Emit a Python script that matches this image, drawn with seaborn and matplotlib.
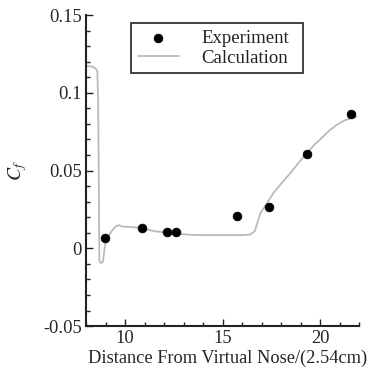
import matplotlib
matplotlib.use("Agg")
import matplotlib.pyplot as plt
from matplotlib.ticker import MultipleLocator
import seaborn as sns
import pandas as pd

# Experiment data
exp_x = [8.98, 10.85, 12.17, 12.61, 15.75, 17.37, 19.33, 21.6]
exp_y = [0.0064, 0.0129, 0.0107, 0.0107, 0.0208, 0.0268, 0.0605, 0.0867]

# Calculation curve
calc_x = [8.0, 8.35, 8.5, 8.58, 8.62, 8.66, 8.68, 8.78, 8.86, 8.88, 8.95, 9.0, 9.1,
          9.3, 9.55, 9.7, 9.85, 10.5, 11.0, 11.5, 12.0, 12.5, 13.0, 13.5, 14.0,
          15.0, 16.0, 16.4, 16.65, 16.8, 16.95, 17.2, 17.6, 18.0, 18.45, 18.9,
          19.3, 19.7, 20.15, 20.5, 20.85, 21.2, 21.55, 21.85]
calc_y = [0.1173, 0.1168, 0.1155, 0.1136, 0.09, 0.03, -0.0085, -0.0095, -0.0085, -0.007,
          0.0, 0.004, 0.0065, 0.011, 0.0145, 0.0148, 0.014, 0.0135, 0.0125, 0.011,
          0.0103, 0.0097, 0.009, 0.0086, 0.0085, 0.0085, 0.0085, 0.0088, 0.011,
          0.017, 0.023, 0.0275, 0.0355, 0.0415, 0.048, 0.055, 0.061, 0.0665,
          0.0718, 0.076, 0.0793, 0.082, 0.0836, 0.0847]

xlim = (8, 22)
ylim = (-0.05, 0.15)
xticks = [10, 15, 20]
yticks = [-0.05, 0, 0.05, 0.1, 0.15]
ytick_labels = ["-0.05", "0", "0.05", "0.1", "0.15"]

sns.set_theme(style="ticks")
plt.rcParams["font.family"] = ["Liberation Serif", "DejaVu Serif"]
plt.rcParams["mathtext.fontset"] = "stix"

fig = plt.figure(figsize=(3.76, 3.68), dpi=100)
ax = fig.add_axes([0.229, 0.114, 0.726, 0.845])

calc_df = pd.DataFrame({"x": calc_x, "y": calc_y})
exp_df = pd.DataFrame({"x": exp_x, "y": exp_y})

sns.lineplot(data=calc_df, x="x", y="y", ax=ax, sort=False, estimator=None,
             color="#bababa", linewidth=1.3, label="Calculation")
sns.scatterplot(data=exp_df, x="x", y="y", ax=ax, color="black", s=40,
                edgecolor="black", linewidth=0.5, label="Experiment", zorder=3)

ax.set_xlim(*xlim)
ax.set_ylim(*ylim)
ax.set_xticks(xticks)
ax.set_xticklabels([str(t) for t in xticks])
ax.set_yticks(yticks)
ax.set_yticklabels(ytick_labels)
ax.xaxis.set_minor_locator(MultipleLocator(1))
ax.yaxis.set_minor_locator(MultipleLocator(0.01))
ax.tick_params(which="both", direction="in", top=False, right=False,
               color="#222222", width=1.0, labelsize=13.3, pad=3)
ax.tick_params(which="major", length=5)
ax.tick_params(which="minor", length=3)

for s in ["top", "right"]:
    ax.spines[s].set_visible(False)
for s in ["left", "bottom"]:
    ax.spines[s].set_linewidth(1.5)
    ax.spines[s].set_color("#222222")

ax.set_xlabel("Distance From Virtual Nose/(2.54cm)", fontsize=13.2, labelpad=0)
ax.xaxis.set_label_coords(0.52, -0.075)
ax.set_ylabel(r"$C_f$", fontsize=14, labelpad=10)

handles, labels = ax.get_legend_handles_labels()
order = [labels.index("Experiment"), labels.index("Calculation")]
leg = ax.legend([handles[i] for i in order], [labels[i] for i in order],
                loc="upper left", bbox_to_anchor=(0.165, 0.807, 0.63, 0.166),
                mode="expand", fontsize=13.5,
                frameon=True, fancybox=False, shadow=False, framealpha=1,
                edgecolor="#333333", handlelength=2.2, handletextpad=1.2,
                labelspacing=0.12, borderpad=0.35, borderaxespad=0)
leg.get_frame().set_linewidth(1.3)
for t in leg.get_texts():
    t.set_color("#222222")

fig.savefig("out.png", dpi=100)
